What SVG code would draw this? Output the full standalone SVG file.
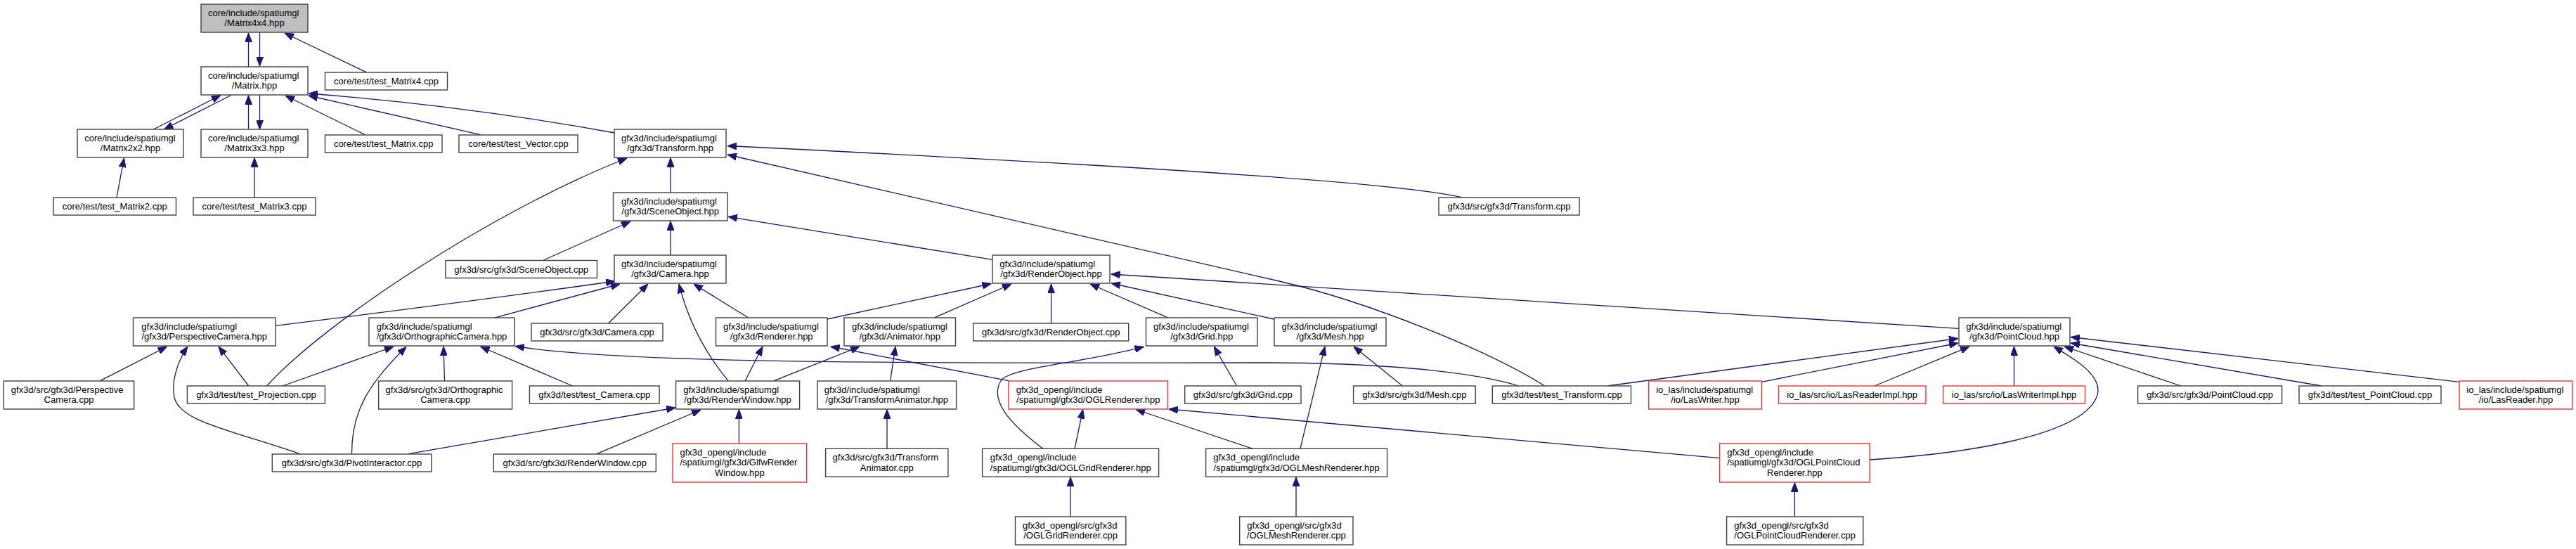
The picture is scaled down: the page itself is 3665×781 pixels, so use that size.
<svg xmlns="http://www.w3.org/2000/svg" width="3665" height="781" viewBox="0 0 3665 781">
<style>
.node rect{fill:#ffffff;stroke:#404040;stroke-width:1.4}
.node.main rect{fill:#bfbfbf}
.node.trunc rect{stroke:#f03232}
text{font-family:"Liberation Sans",Arial,Helvetica,sans-serif;font-size:13px;fill:#000000}
text.c{text-anchor:middle}
#edges path{fill:none;stroke:#191970;stroke-width:1.3;marker-end:url(#arr)}
</style>
<defs>
<marker id="arr" viewBox="0 0 13 10" refX="13" refY="5" markerWidth="13" markerHeight="10" markerUnits="userSpaceOnUse" orient="auto">
<path d="M0,0 L13,5 L0,10 z" fill="#191970" stroke="#191970" stroke-width="1"/>
</marker>
</defs>
<rect x="0" y="0" width="3665" height="781" fill="#ffffff"/>
<g id="edges">
<path d="M353.5,95 L353.5,47"/>
<path d="M369.5,46 L369.5,94"/>
<path d="M521,102.7 L405,47"/>
<path d="M218.3,184 L314,135.5"/>
<path d="M328.6,135.5 L233.5,184"/>
<path d="M353.5,184 L353.5,135.5"/>
<path d="M369.5,135.5 L369.5,184"/>
<path d="M519.3,191.7 L406,136"/>
<path d="M683.6,191.7 L439,136"/>
<path d="M874.3,189 Q 660,150 439,133"/>
<path d="M166,281 L176.5,225"/>
<path d="M362,281 L362,224.5"/>
<path d="M954,274 L954,224.5"/>
<path d="M379.6,549 C 460,460 700,300 892,225"/>
<path d="M2197.8,549 C 2120,500 1950,430 1820,400 L1035,220"/>
<path d="M2080.5,281 C 2000,262 1700,240 1035,207.5"/>
<path d="M954,363 L954,314.5"/>
<path d="M773.4,370 L897,315"/>
<path d="M1412,369.3 L1036,308.3"/>
<path d="M392,463.3 C 500,450 700,425 875,400"/>
<path d="M702.3,452.3 L882,404"/>
<path d="M865.5,460 L922,404"/>
<path d="M1036,541.7 Q 985,480 966,404"/>
<path d="M1064.3,451.7 L987,404"/>
<path d="M142.6,541.7 L237.6,493"/>
<path d="M353.8,549 L311,493"/>
<path d="M426.6,645.7 C 330,612 255,600 248,565 C 243,540 255,510 267,493"/>
<path d="M402,549 L560,493"/>
<path d="M500.5,645.7 C 500,585 525,545 578,493.5"/>
<path d="M632.5,541.7 L631,493"/>
<path d="M814.4,549 L683.6,493"/>
<path d="M2160.9,549 C 2090,527 1950,516 1800,516 C 1400,516 900,520 733,492.5"/>
<path d="M581,645.7 L961,580"/>
<path d="M849,645.7 L997,583"/>
<path d="M1051.4,631 L1051.4,582.5"/>
<path d="M1060.2,541.7 L1085,493"/>
<path d="M1101.3,541.7 L1223,493"/>
<path d="M1266.7,541.7 L1274,493"/>
<path d="M1262,638.3 L1262,582.5"/>
<path d="M1435,541.7 L1181.7,493"/>
<path d="M1177,454 L1410.5,403.5"/>
<path d="M1330,451.7 L1439,404"/>
<path d="M1495.6,460 L1495.6,404"/>
<path d="M1661,451.7 L1551,404"/>
<path d="M1812.4,454 L1581,403"/>
<path d="M2786.8,467.3 L1580.7,390"/>
<path d="M1483.8,638.3 C 1440,605 1405,570 1425,540 C 1445,522 1530,518 1627.6,493.3"/>
<path d="M1759.6,549 L1727.3,493"/>
<path d="M1849.9,638.3 L1885,493"/>
<path d="M1995.4,549 L1926,493"/>
<path d="M1529,638.3 L1540.7,582.5"/>
<path d="M1781.9,638.3 L1616,582.5"/>
<path d="M2446.6,651.7 L1662.8,582"/>
<path d="M1523,735 L1523,678.8"/>
<path d="M1844,735 L1844,678.8"/>
<path d="M2553.4,735 L2553.4,686.5"/>
<path d="M2287,549 L2786,481.5"/>
<path d="M2506.5,543.3 L2786,488"/>
<path d="M2667,549 L2802,493"/>
<path d="M2865.5,549 L2865.5,493"/>
<path d="M2660.2,654 C 2800,645 2960,620 2983,565 C 2995,535 2950,510 2922,493"/>
<path d="M3103,549 L2937,493"/>
<path d="M3303,549 L2946,488"/>
<path d="M3498.8,543.3 L2946,479.5"/>
</g>
<g id="n_m4x4" class="node main"><rect x="286" y="6" width="152" height="40"/><text x="296" y="23">core/include/spatiumgl</text><text class="c" x="362" y="37.4">/Matrix4x4.hpp</text></g>
<g id="n_matrix" class="node"><rect x="286" y="95" width="152" height="40"/><text x="296" y="112">core/include/spatiumgl</text><text class="c" x="362" y="126.4">/Matrix.hpp</text></g>
<g id="n_test_matrix4" class="node"><rect x="462.5" y="103" width="174" height="25"/><text class="c" x="549.5" y="120">core/test/test_Matrix4.cpp</text></g>
<g id="n_m2x2" class="node"><rect x="110" y="184" width="151" height="40"/><text x="120.3" y="201">core/include/spatiumgl</text><text class="c" x="185.5" y="215.4">/Matrix2x2.hpp</text></g>
<g id="n_m3x3" class="node"><rect x="286" y="184" width="152" height="40"/><text x="296" y="201">core/include/spatiumgl</text><text class="c" x="362" y="215.4">/Matrix3x3.hpp</text></g>
<g id="n_test_matrix" class="node"><rect x="462.5" y="192" width="166.5" height="25"/><text class="c" x="545.7" y="209">core/test/test_Matrix.cpp</text></g>
<g id="n_test_vector" class="node"><rect x="653" y="192" width="169" height="25"/><text class="c" x="737.5" y="209">core/test/test_Vector.cpp</text></g>
<g id="n_transform" class="node"><rect x="874" y="184" width="159" height="40"/><text x="884" y="201">gfx3d/include/spatiumgl</text><text class="c" x="953.5" y="215.4">/gfx3d/Transform.hpp</text></g>
<g id="n_test_matrix2" class="node"><rect x="76" y="281" width="174.5" height="25"/><text class="c" x="163.2" y="298">core/test/test_Matrix2.cpp</text></g>
<g id="n_test_matrix3" class="node"><rect x="275" y="281" width="174" height="25"/><text class="c" x="362" y="298">core/test/test_Matrix3.cpp</text></g>
<g id="n_transform_cpp" class="node"><rect x="2047" y="281" width="200" height="25"/><text class="c" x="2147" y="298">gfx3d/src/gfx3d/Transform.cpp</text></g>
<g id="n_sceneobject" class="node"><rect x="872.5" y="274" width="162.5" height="40"/><text x="884" y="291">gfx3d/include/spatiumgl</text><text class="c" x="953.7" y="305.4">/gfx3d/SceneObject.hpp</text></g>
<g id="n_sceneobject_cpp" class="node"><rect x="634" y="370.5" width="215.5" height="25"/><text class="c" x="741.7" y="387.5">gfx3d/src/gfx3d/SceneObject.cpp</text></g>
<g id="n_camera" class="node"><rect x="874" y="363" width="159" height="40"/><text x="884" y="380">gfx3d/include/spatiumgl</text><text class="c" x="953.5" y="394.4">/gfx3d/Camera.hpp</text></g>
<g id="n_perspective" class="node"><rect x="189.5" y="452" width="202.5" height="40"/><text x="201.3" y="469">gfx3d/include/spatiumgl</text><text class="c" x="290.7" y="483.4">/gfx3d/PerspectiveCamera.hpp</text></g>
<g id="n_ortho" class="node"><rect x="525" y="452" width="207" height="40"/><text x="535.7" y="469">gfx3d/include/spatiumgl</text><text class="c" x="628.5" y="483.4">/gfx3d/OrthographicCamera.hpp</text></g>
<g id="n_camera_cpp" class="node"><rect x="756" y="460" width="187" height="25"/><text class="c" x="849.5" y="477">gfx3d/src/gfx3d/Camera.cpp</text></g>
<g id="n_perspective_cpp" class="node"><rect x="5.3" y="542" width="185.4" height="40"/><text x="15.8" y="559">gfx3d/src/gfx3d/Perspective</text><text class="c" x="98" y="573.4">Camera.cpp</text></g>
<g id="n_test_projection" class="node"><rect x="266.4" y="549" width="196" height="25"/><text class="c" x="364.4" y="566">gfx3d/test/test_Projection.cpp</text></g>
<g id="n_ortho_cpp" class="node"><rect x="538.6" y="542" width="190" height="40"/><text x="548.6" y="559">gfx3d/src/gfx3d/Orthographic</text><text class="c" x="633.6" y="573.4">Camera.cpp</text></g>
<g id="n_test_camera" class="node"><rect x="753.4" y="549" width="184.7" height="25"/><text class="c" x="845.7" y="566">gfx3d/test/test_Camera.cpp</text></g>
<g id="n_pivot_cpp" class="node"><rect x="387.3" y="646" width="226.5" height="25"/><text class="c" x="500.5" y="663">gfx3d/src/gfx3d/PivotInteractor.cpp</text></g>
<g id="n_renderwindow_cpp" class="node"><rect x="702.3" y="646" width="231" height="25"/><text class="c" x="817.8" y="663">gfx3d/src/gfx3d/RenderWindow.cpp</text></g>
<g id="n_renderobject" class="node"><rect x="1412" y="363" width="167" height="40"/><text x="1422.2" y="380">gfx3d/include/spatiumgl</text><text class="c" x="1495.5" y="394.4">/gfx3d/RenderObject.hpp</text></g>
<g id="n_renderer" class="node"><rect x="1018.5" y="452" width="158.5" height="40"/><text x="1029" y="469">gfx3d/include/spatiumgl</text><text class="c" x="1097.7" y="483.4">/gfx3d/Renderer.hpp</text></g>
<g id="n_animator" class="node"><rect x="1201" y="452" width="158.5" height="40"/><text x="1212" y="469">gfx3d/include/spatiumgl</text><text class="c" x="1280.2" y="483.4">/gfx3d/Animator.hpp</text></g>
<g id="n_renderobject_cpp" class="node"><rect x="1384.7" y="460" width="221" height="25"/><text class="c" x="1495.2" y="477">gfx3d/src/gfx3d/RenderObject.cpp</text></g>
<g id="n_grid" class="node"><rect x="1630.5" y="452" width="158.5" height="40"/><text x="1641" y="469">gfx3d/include/spatiumgl</text><text class="c" x="1709.7" y="483.4">/gfx3d/Grid.hpp</text></g>
<g id="n_mesh" class="node"><rect x="1813" y="452" width="159" height="40"/><text x="1823.5" y="469">gfx3d/include/spatiumgl</text><text class="c" x="1892.5" y="483.4">/gfx3d/Mesh.hpp</text></g>
<g id="n_pointcloud" class="node"><rect x="2787" y="452" width="158" height="40"/><text x="2797.2" y="469">gfx3d/include/spatiumgl</text><text class="c" x="2866" y="483.4">/gfx3d/PointCloud.hpp</text></g>
<g id="n_renderwindow" class="node"><rect x="961.6" y="542" width="176" height="40"/><text x="972.2" y="559">gfx3d/include/spatiumgl</text><text class="c" x="1049.6" y="573.4">/gfx3d/RenderWindow.hpp</text></g>
<g id="n_transformanimator" class="node"><rect x="1163" y="542" width="197.6" height="40"/><text x="1172.8" y="559">gfx3d/include/spatiumgl</text><text class="c" x="1261.8" y="573.4">/gfx3d/TransformAnimator.hpp</text></g>
<g id="n_oglrenderer" class="node trunc"><rect x="1435" y="542" width="226.5" height="40"/><text x="1445.7" y="559">gfx3d_opengl/include</text><text class="c" x="1548.3" y="573.4">/spatiumgl/gfx3d/OGLRenderer.hpp</text></g>
<g id="n_grid_cpp" class="node"><rect x="1685.7" y="549" width="165.3" height="25"/><text class="c" x="1768.3" y="566">gfx3d/src/gfx3d/Grid.cpp</text></g>
<g id="n_mesh_cpp" class="node"><rect x="1925.6" y="549" width="173.6" height="25"/><text class="c" x="2012.4" y="566">gfx3d/src/gfx3d/Mesh.cpp</text></g>
<g id="n_test_transform" class="node"><rect x="2123.3" y="549" width="197.2" height="25"/><text class="c" x="2221.9" y="566">gfx3d/test/test_Transform.cpp</text></g>
<g id="n_laswriter" class="node trunc"><rect x="2345.7" y="542" width="160.7" height="40"/><text x="2356.2" y="559">io_las/include/spatiumgl</text><text class="c" x="2426" y="573.4">/io/LasWriter.hpp</text></g>
<g id="n_lasreaderimpl" class="node trunc"><rect x="2530.5" y="549" width="209.5" height="25"/><text class="c" x="2635.2" y="566">io_las/src/io/LasReaderImpl.hpp</text></g>
<g id="n_laswriterimpl" class="node trunc"><rect x="2764.6" y="549" width="202" height="25"/><text class="c" x="2865.6" y="566">io_las/src/io/LasWriterImpl.hpp</text></g>
<g id="n_pointcloud_cpp" class="node"><rect x="3041.6" y="549" width="205" height="25"/><text class="c" x="3144.1" y="566">gfx3d/src/gfx3d/PointCloud.cpp</text></g>
<g id="n_test_pointcloud" class="node"><rect x="3271" y="549" width="202" height="25"/><text class="c" x="3372" y="566">gfx3d/test/test_PointCloud.cpp</text></g>
<g id="n_lasreader" class="node trunc"><rect x="3499" y="542" width="161" height="40"/><text x="3509.3" y="559">io_las/include/spatiumgl</text><text class="c" x="3579.5" y="573.4">/io/LasReader.hpp</text></g>
<g id="n_glfwrenderwindow" class="node trunc"><rect x="957" y="631" width="190.7" height="55"/><text x="967.5" y="648">gfx3d_opengl/include</text><text x="967.5" y="662.4">/spatiumgl/gfx3d/GlfwRender</text><text class="c" x="1052.3" y="676.8">Window.hpp</text></g>
<g id="n_transformanimator_cpp" class="node"><rect x="1174.6" y="638.3" width="174.3" height="40"/><text x="1184.6" y="655.3">gfx3d/src/gfx3d/Transform</text><text class="c" x="1261.7" y="669.7">Animator.cpp</text></g>
<g id="n_oglgridrenderer" class="node"><rect x="1397.6" y="638.3" width="251" height="40"/><text x="1408.7" y="655.3">gfx3d_opengl/include</text><text class="c" x="1523.1" y="669.7">/spatiumgl/gfx3d/OGLGridRenderer.hpp</text></g>
<g id="n_oglmeshrenderer" class="node"><rect x="1715.6" y="638.3" width="258" height="40"/><text x="1726.2" y="655.3">gfx3d_opengl/include</text><text class="c" x="1844.6" y="669.7">/spatiumgl/gfx3d/OGLMeshRenderer.hpp</text></g>
<g id="n_oglpointcloudrenderer" class="node trunc"><rect x="2446.6" y="631" width="213.6" height="55"/><text x="2457.2" y="648">gfx3d_opengl/include</text><text x="2457.2" y="662.4">/spatiumgl/gfx3d/OGLPointCloud</text><text class="c" x="2553.4" y="676.8">Renderer.hpp</text></g>
<g id="n_oglgridrenderer_cpp" class="node"><rect x="1444.5" y="735" width="157.3" height="40"/><text x="1455" y="752">gfx3d_opengl/src/gfx3d</text><text class="c" x="1523.1" y="766.4">/OGLGridRenderer.cpp</text></g>
<g id="n_oglmeshrenderer_cpp" class="node"><rect x="1763.7" y="735" width="161.3" height="40"/><text x="1774.3" y="752">gfx3d_opengl/src/gfx3d</text><text class="c" x="1844.3" y="766.4">/OGLMeshRenderer.cpp</text></g>
<g id="n_oglpointcloudrenderer_cpp" class="node"><rect x="2456.6" y="735" width="194.2" height="40"/><text x="2467.2" y="752">gfx3d_opengl/src/gfx3d</text><text class="c" x="2553.7" y="766.4">/OGLPointCloudRenderer.cpp</text></g>
</svg>
